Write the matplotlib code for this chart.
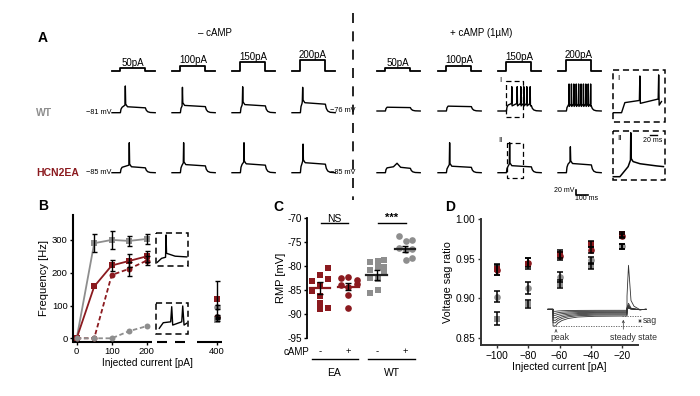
import numpy as np
import matplotlib.pyplot as plt
from matplotlib.patches import Rectangle

plt.rcParams['font.family'] = ['Liberation Sans', 'DejaVu Sans']

RED = '#8b1a1f'
GRAY = '#8e8e8e'

# === Panel A: current steps and voltage traces (time in ms, voltage in mV above rest) ===
step_labels = ['50pA', '100pA', '150pA', '200pA']
step_height_px = [3, 5.5, 9, 11]
STEP_ON, STEP_OFF, T_END = 70, 278, 360

wt_minus_plateau = [20, 25, 28, 35]
wt_minus_spikes = [[111], [87], [89], [89]]
wt_minus_peak = [99, 94, 96, 94]
ea_minus_plateau = [20, 28, 31, 35]
ea_minus_spikes = [[144], [97], [100], [92]]
ea_minus_peak = [111, 111, 111, 106]

wt_plus_plateau = [14, 18, 22, 20]
wt_plus_spikes = [[], [], [115, 160, 190, 215, 240, 268],
                  [92, 112, 132, 152, 172, 192, 212, 232, 252, 272]]
wt_plus_peak = [0, 0, 90, 100]
ea_plus_plateau = [18, 22, 24, 32]
ea_plus_spikes = [[167], [97], [97], [103]]
ea_plus_peak = [35, 111, 111, 96]

# zoomed insets I and II
inset_I_t = [0, 25, 35, 79, 80.5, 82, 136, 137.5, 139, 146]
inset_I_v = [0, 0, 28, 34, 102, 26, 38, 105, 21, 31]
inset_II_t = [0, 20, 45, 52, 53, 54.5, 60, 81, 131, 152]
inset_II_v = [0, 0, 28, 46, 122, 50, 42, 36, 30, 28]

# === Panel B ===
b_current = [0, 50, 100, 150, 200]
b_wt_minus = [0, 290, 300, 297, 303]
b_wt_minus_err = [0, 28, 28, 15, 14]
b_ea_minus = [0, 158, 222, 236, 250]
b_ea_minus_err = [0, 5, 17, 20, 17]
b_ea_plus = [0, 0, 193, 212, 237]
b_ea_plus_err = [0, 0, 10, 22, 15]
b_wt_plus = [0, 0, 0, 22, 37]
b_wt_plus_err = [0, 0, 0, 3, 4]
b_400 = {'ea_minus': (120, 55), 'wt_plus': (96, 6), 'ea_plus': (65, 5), 'wt_minus': (57, 4)}

b_box1_t = [0, 13, 25, 26.5, 28, 54, 89]
b_box1_v = [0, 11, 14, 76, 25, 17, 15]
b_box2_t = [0, 12, 34.5, 37.6, 40.6, 68, 71, 75, 83]
b_box2_v = [0, 15.5, 18, 60, 9, 18, 62, 9, 14]

# === Panel C: resting membrane potential ===
c_ea_minus = [-80.5, -81.9, -82.6, -83.1, -84.0, -85.3, -86.3, -87.8, -89.0, -88.8]
c_ea_minus_dx = [0.27, 0.0, 0.27, -0.27, 0.0, -0.27, 0.0, 0.0, 0.0, 0.27]
c_ea_plus = [-82.4, -82.3, -82.9, -84.0, -84.3, -83.7, -86.0, -88.7]
c_ea_plus_dx = [-0.26, 0.0, 0.29, -0.26, 0.0, 0.29, 0.0, 0.0]
c_wt_minus = [-79.2, -79.0, -78.7, -80.1, -80.8, -80.1, -82.4, -82.6, -85.7, -85.0, -81.2]
c_wt_minus_dx = [-0.24, 0.04, 0.27, 0.27, -0.24, 0.04, -0.24, 0.04, -0.24, 0.04, 0.27]
c_wt_plus = [-73.8, -74.7, -74.5, -76.3, -76.6, -76.4, -78.7, -78.4]
c_wt_plus_dx = [-0.21, 0.02, 0.26, -0.21, 0.02, 0.26, 0.02, 0.26]
c_mean = [-84.6, -84.3, -81.9, -76.4]
c_sem = [1.25, 0.7, 1.0, 0.7]

# === Panel D: voltage sag ratio ===
d_current = [-100, -80, -60, -40, -20]
d_ea_minus = [0.937, 0.944, 0.956, 0.969, 0.981]
d_ea_minus_err = [0.007, 0.007, 0.005, 0.004, 0.003]
d_ea_plus = [0.936, 0.945, 0.953, 0.961, 0.979]
d_ea_plus_err = [0.006, 0.006, 0.005, 0.004, 0.003]
d_wt_minus = [0.874, 0.893, 0.918, 0.941, 0.966]
d_wt_minus_err = [0.008, 0.005, 0.005, 0.004, 0.003]
d_wt_plus = [0.902, 0.913, 0.927, 0.948, 0.966]
d_wt_plus_err = [0.007, 0.007, 0.006, 0.004, 0.003]

# sag illustration (px below baseline)
sag_peak_px = [2, 4, 6, 8.5, 11, 13.5, 16.7]
sag_steady_px = [1, 2, 3, 3.8, 4.7, 5.6, 6.7]
sag_rebound_px = [1, 1.5, 2, 3, 4, 6, 44]

fig = plt.figure(figsize=(7, 3.96), dpi=100)
ov = fig.add_axes([0, 0, 1, 1], zorder=10)
ov.set_xlim(0, 700)
ov.set_ylim(396, 0)
ov.axis('off')

MS_PX, MV_PX = 0.12, 0.27


def draw_trace(t, v, x0, y0, sx=MS_PX, sy=MV_PX, lw=1.0, color='k'):
    ov.plot(x0 + np.asarray(t, float) * sx, y0 - np.asarray(v, float) * sy,
            color=color, lw=lw, solid_joinstyle='round')


def build_trace(p, spikes, peak):
    t = [0, STEP_ON, STEP_ON + 5, STEP_ON + 14]
    v = [0, 0, 0.65 * p, p]
    for ts in spikes:
        if peak - p < 30:
            t += [ts - 30, ts, ts + 30]
            v += [p + 4, peak, p + 2]
        elif len(spikes) == 1:
            t += [ts - 3, ts, ts + 3, ts + 18]
            v += [p + 8, peak, p + 12, p + 2]
        else:
            t += [ts - 2, ts, ts + 2.5]
            v += [p + 6, peak, p - 3]
    pe = 0.9 * p
    t += [STEP_OFF, STEP_OFF + 8, STEP_OFF + 20, STEP_OFF + 40, T_END]
    v += [pe, 0.5 * pe, 0.2 * pe, 0.05 * pe, 0]
    return t, v


def dashed_box(x0, y0, x1, y1, lw=1.1):
    ov.add_patch(Rectangle((x0, y0), x1 - x0, y1 - y0, fill=False, ec='k',
                           lw=lw, ls=(0, (4, 2.5))))


left_x = [112, 172, 232, 292]
right_x = [377, 438, 498, 558]
STEP_Y = 71

for x0, lab, h in zip(left_x + right_x, step_labels * 2, step_height_px * 2):
    tt = np.array([0, STEP_ON, STEP_ON, STEP_OFF, STEP_OFF, T_END]) * MS_PX + x0
    yy = STEP_Y - np.array([0, 0, h, h, 0, 0])
    ov.plot(tt, yy, color='k', lw=1.3)
    ov.text(x0 + (STEP_ON + STEP_OFF) / 2 * MS_PX, STEP_Y - h - 0.3, lab,
            ha='center', va='bottom', fontsize=7)

rows = [
    (left_x, 112.7, wt_minus_plateau, wt_minus_spikes, wt_minus_peak),
    (left_x, 172.7, ea_minus_plateau, ea_minus_spikes, ea_minus_peak),
    (right_x, 111.0, wt_plus_plateau, wt_plus_spikes, wt_plus_peak),
    (right_x, 172.7, ea_plus_plateau, ea_plus_spikes, ea_plus_peak),
]
for xs, y0, plat, spk, pk in rows:
    for x0, p, s, k in zip(xs, plat, spk, pk):
        t, v = build_trace(p, s, k)
        draw_trace(t, v, x0, y0)

ov.text(38, 38, 'A', fontsize=10, fontweight='bold', va='center')
ov.text(214.5, 33, '\u2013 cAMP', fontsize=7, ha='center', va='center')
ov.text(481, 33, '+ cAMP (1\u00b5M)', fontsize=7, ha='center', va='center')
ov.plot([353, 353], [13, 200], color='k', lw=1.2, ls=(0, (6, 5)))

ov.text(36, 113, 'WT', fontsize=7.5, fontweight='bold', color=GRAY, va='center')
ov.text(36, 173, 'HCN2EA', fontsize=7.5, fontweight='bold', color=RED, va='center')
for x, y, s in [(111, 112.7, '\u221281 mV'), (111, 172.7, '\u221285 mV'),
                (355, 111, '\u221276 mV'), (355, 172.7, '\u221285 mV')]:
    ov.text(x, y, s, fontsize=5.3, ha='right', va='center')

# small dashed boxes around 150 pA traces
dashed_box(506, 81, 523, 117, lw=0.9)
dashed_box(507, 143, 523, 178, lw=0.9)
ov.text(500, 80, 'I', fontsize=5.5, ha='center', va='center')
ov.text(500, 141, 'II', fontsize=5.5, ha='center', va='center')

# zoomed insets
dashed_box(612.5, 70, 665, 122)
dashed_box(612.5, 130.5, 665, 180)
ov.text(618, 78, 'I', fontsize=6, ha='center', va='center')
ov.text(620, 138, 'II', fontsize=6, ha='center', va='center')
draw_trace(inset_I_t, inset_I_v, 613.3, 112.7, sx=0.33, sy=0.36)
draw_trace(inset_II_t, inset_II_v, 613.3, 176.7, sx=0.33, sy=0.36, lw=1.1)
ov.plot([650, 650 + 20 * 0.33], [135, 135], color='k', lw=1)
ov.text(652.5, 140, '20 ms', fontsize=5, ha='center', va='center')

# scale bar
ov.plot([575.7, 575.7, 575.7 + 100 * MS_PX], [195 - 20 * MV_PX, 195, 195], color='k', lw=1.2)
ov.text(574, 191, '20 mV', fontsize=5, ha='right', va='center')
ov.text(587, 198.5, '100 ms', fontsize=5, ha='center', va='center')

# === Panel B ===
axB = fig.add_axes([73.3 / 700, 1 - 341.7 / 396, 148.4 / 700, 126.7 / 396])
axB.set_xlim(-9.7, 414)
axB.set_ylim(-10.4, 376)
for sp in ['top', 'right', 'bottom']:
    axB.spines[sp].set_visible(False)
axB.spines['left'].set_linewidth(1.5)
trans = axB.get_xaxis_transform()
for xa, xb in [(-9.7, 215), (229, 257), (281, 309), (343, 414)]:
    axB.plot([xa, xb], [0, 0], transform=trans, color='k', lw=1.5, clip_on=False,
             solid_capstyle='butt')

err_kw = dict(fmt='none', ecolor='k', elinewidth=1, capsize=1.8, capthick=1, zorder=4)
axB.plot(b_current, b_wt_minus, color=GRAY, lw=1.3, marker='s', ms=4.3, mew=0, zorder=3)
axB.errorbar(b_current[1:], b_wt_minus[1:], yerr=b_wt_minus_err[1:], **err_kw)
axB.plot(b_current, b_ea_minus, color=RED, lw=1.3, marker='s', ms=4.3, mew=0, zorder=3)
axB.errorbar(b_current[2:], b_ea_minus[2:], yerr=b_ea_minus_err[2:], **err_kw)
axB.plot(b_current, b_ea_plus, color=RED, lw=1.3, ls=(0, (2.5, 1.5)), marker='o', ms=4.3, mew=0, zorder=3)
axB.errorbar(b_current[3:], b_ea_plus[3:], yerr=b_ea_plus_err[3:], **err_kw)
axB.plot(b_current, b_wt_plus, color=GRAY, lw=1.3, ls=(0, (2.5, 1.5)), marker='o', ms=4.3, mew=0, zorder=3)

styles = {'ea_minus': (RED, 's'), 'wt_plus': (GRAY, 'o'), 'ea_plus': ('#4a1a1a', 'o'), 'wt_minus': (GRAY, 's')}
for key, (val, err) in b_400.items():
    c, m = styles[key]
    axB.errorbar([400], [val], yerr=[err], **err_kw)
    axB.plot([400], [val], color=c, marker=m, ms=4.8, mew=0, zorder=3)

axB.set_xticks([0, 100, 200, 400])
axB.set_yticks([0, 100, 200, 300])
axB.tick_params(labelsize=6.8, length=2.5, width=1, pad=1.5)
axB.set_xlabel('Injected current [pA]', fontsize=7.3, labelpad=1)
axB.set_ylabel('Frequency [Hz]', fontsize=8, labelpad=2)

dashed_box(155.5, 233, 188, 266)
dashed_box(155.5, 302.7, 188, 334)
draw_trace(b_box1_t, b_box1_v, 157.3, 262.3, sx=0.33, sy=0.36)
draw_trace(b_box2_t, b_box2_v, 159.3, 328.3, sx=0.33, sy=0.36)
ov.text(38, 206, 'B', fontsize=10, fontweight='bold', va='center')

# === Panel C ===
axC = fig.add_axes([307.3 / 700, 1 - 342.6 / 396, 112.7 / 700, 129.1 / 396])
axC.set_xlim(0.55, 4.53)
axC.set_ylim(-96, -69)
for sp in ['top', 'right', 'bottom']:
    axC.spines[sp].set_visible(False)
axC.spines['left'].set_linewidth(1.3)
axC.spines['left'].set_bounds(-95, -70)
axC.set_xticks([])
c_ticks = [-70, -75, -80, -85, -90, -95]
axC.set_yticks(c_ticks)
axC.set_yticklabels([str(v) for v in c_ticks])
axC.tick_params(labelsize=7.2, length=2.5, width=1, pad=1.5)
axC.set_ylabel('RMP [mV]', fontsize=8, labelpad=1)

groups = [(c_ea_minus, c_ea_minus_dx, RED, 's'), (c_ea_plus, c_ea_plus_dx, RED, 'o'),
          (c_wt_minus, c_wt_minus_dx, GRAY, 's'), (c_wt_plus, c_wt_plus_dx, GRAY, 'o')]
for i, (vals, dx, c, m) in enumerate(groups):
    xs = np.array(dx) + i + 1
    axC.plot(xs, vals, ls='none', marker=m, color=c, ms=4.8, mew=0, zorder=2)
    mc = RED if i < 2 else '#222222'
    axC.plot([i + 1 - 0.36, i + 1 + 0.36], [c_mean[i]] * 2, color=mc, lw=1.6, zorder=3)
    axC.errorbar([i + 1], [c_mean[i]], yerr=[c_sem[i]], fmt='none', ecolor='k',
                 elinewidth=1, capsize=2.5, capthick=1, zorder=4)

for x, s in zip([1, 2, 3, 4], ['-', '+', '-', '+']):
    axC.text(x, -97.9, s, fontsize=6.8, ha='center', va='center', clip_on=False)
axC.text(0.62, -97.9, 'cAMP', fontsize=7, ha='right', va='center', clip_on=False)
axC.plot([0.71, 2.35], [-99.4, -99.4], color='k', lw=1, clip_on=False)
axC.plot([2.71, 4.36], [-99.4, -99.4], color='k', lw=1, clip_on=False)
axC.text(1.5, -102.3, 'EA', fontsize=7.5, ha='center', va='center', clip_on=False)
axC.text(3.55, -102.3, 'WT', fontsize=7.5, ha='center', va='center', clip_on=False)
axC.plot([1.02, 2.0], [-71.05, -71.05], color='k', lw=1, clip_on=False)
axC.plot([3.04, 4.03], [-71.05, -71.05], color='k', lw=1, clip_on=False)
axC.text(1.5, -70.2, 'NS', fontsize=7.5, ha='center', va='center', clip_on=False)
axC.text(3.53, -69.9, '***', fontsize=8, fontweight='bold', ha='center', va='center', clip_on=False)
ov.text(273, 207, 'C', fontsize=10, fontweight='bold', va='center')

# === Panel D ===
axD = fig.add_axes([480.7 / 700, 1 - 345 / 396, 157.6 / 700, 125.7 / 396])
axD.set_xlim(-110.7, -9.3)
axD.set_ylim(0.8408, 1.0)
for sp in ['top', 'right']:
    axD.spines[sp].set_visible(False)
for sp in ['left', 'bottom']:
    axD.spines[sp].set_linewidth(1.4)
    axD.spines[sp].set_color('#333333')
axD.set_xticks(d_current)
axD.set_yticks([0.85, 0.90, 0.95, 1.00])
axD.set_yticklabels(['0.85', '0.90', '0.95', '1.00'])
axD.tick_params(labelsize=7.3, length=2.5, width=1, pad=1.5, color='#333333')
axD.set_xlabel('Injected current [pA]', fontsize=7.6, labelpad=1)
axD.set_ylabel('Voltage sag ratio', fontsize=7.8, labelpad=2)

derr = dict(fmt='none', ecolor='k', elinewidth=1.1, capsize=2.3, capthick=1.1, zorder=4)
for vals, errs, c, m in [(d_wt_minus, d_wt_minus_err, GRAY, 's'), (d_wt_plus, d_wt_plus_err, GRAY, 'o'),
                         (d_ea_plus, d_ea_plus_err, RED, 'o'), (d_ea_minus, d_ea_minus_err, RED, 's')]:
    axD.errorbar(d_current, vals, yerr=errs, **derr)
    axD.plot(d_current, vals, ls='none', marker=m, color=c, ms=4.8, mew=0, zorder=3, clip_on=False)
ov.text(445, 207, 'D', fontsize=10, fontweight='bold', va='center')

# sag illustration
Y0 = 309.3
sx_pts = [548, 553, 553.01, 555.5, 558, 562, 568, 578, 595, 627]
relax = [None, None, 1.0, 1.0, 0.7, 0.45, 0.25, 0.1, 0.03, 0.0]
for pk, st, rb in zip(sag_peak_px, sag_steady_px, sag_rebound_px):
    ys = [Y0 if f is None else Y0 + st + (pk - st) * f for f in relax]
    xs = sx_pts + [627.01, 628.5, 631, 634, 640, 646]
    ys = ys + [Y0 - rb * 0.3, Y0 - rb, Y0 - rb * 0.2, Y0 - rb * 0.07, Y0 + 0.4, Y0]
    ov.plot(xs, ys, color='#333333', lw=0.6)
ov.plot([553, 642], [326, 326], color='#555555', lw=0.6, ls=(0, (1.5, 1.5)))
ov.plot([622, 642], [316, 316], color='#555555', lw=0.6, ls=(0, (1.5, 1.5)))
ov.annotate('', xy=(640, 316.3), xytext=(640, 325.7),
            arrowprops=dict(arrowstyle='<->', lw=0.5, color='#333333', mutation_scale=4))
ov.annotate('', xy=(556, 326.5), xytext=(556, 333),
            arrowprops=dict(arrowstyle='->', lw=0.5, color='#333333', mutation_scale=4))
ov.annotate('', xy=(623.3, 317), xytext=(623.3, 332),
            arrowprops=dict(arrowstyle='->', lw=0.5, color='#333333', mutation_scale=4))
ov.text(643, 320.5, 'sag', fontsize=6.3, color='#333333', va='center')
ov.text(559.5, 337, 'peak', fontsize=6.3, color='#333333', ha='center', va='center')
ov.text(633, 337, 'steady state', fontsize=6.3, color='#333333', ha='center', va='center')

fig.savefig('out.png', dpi=100)
